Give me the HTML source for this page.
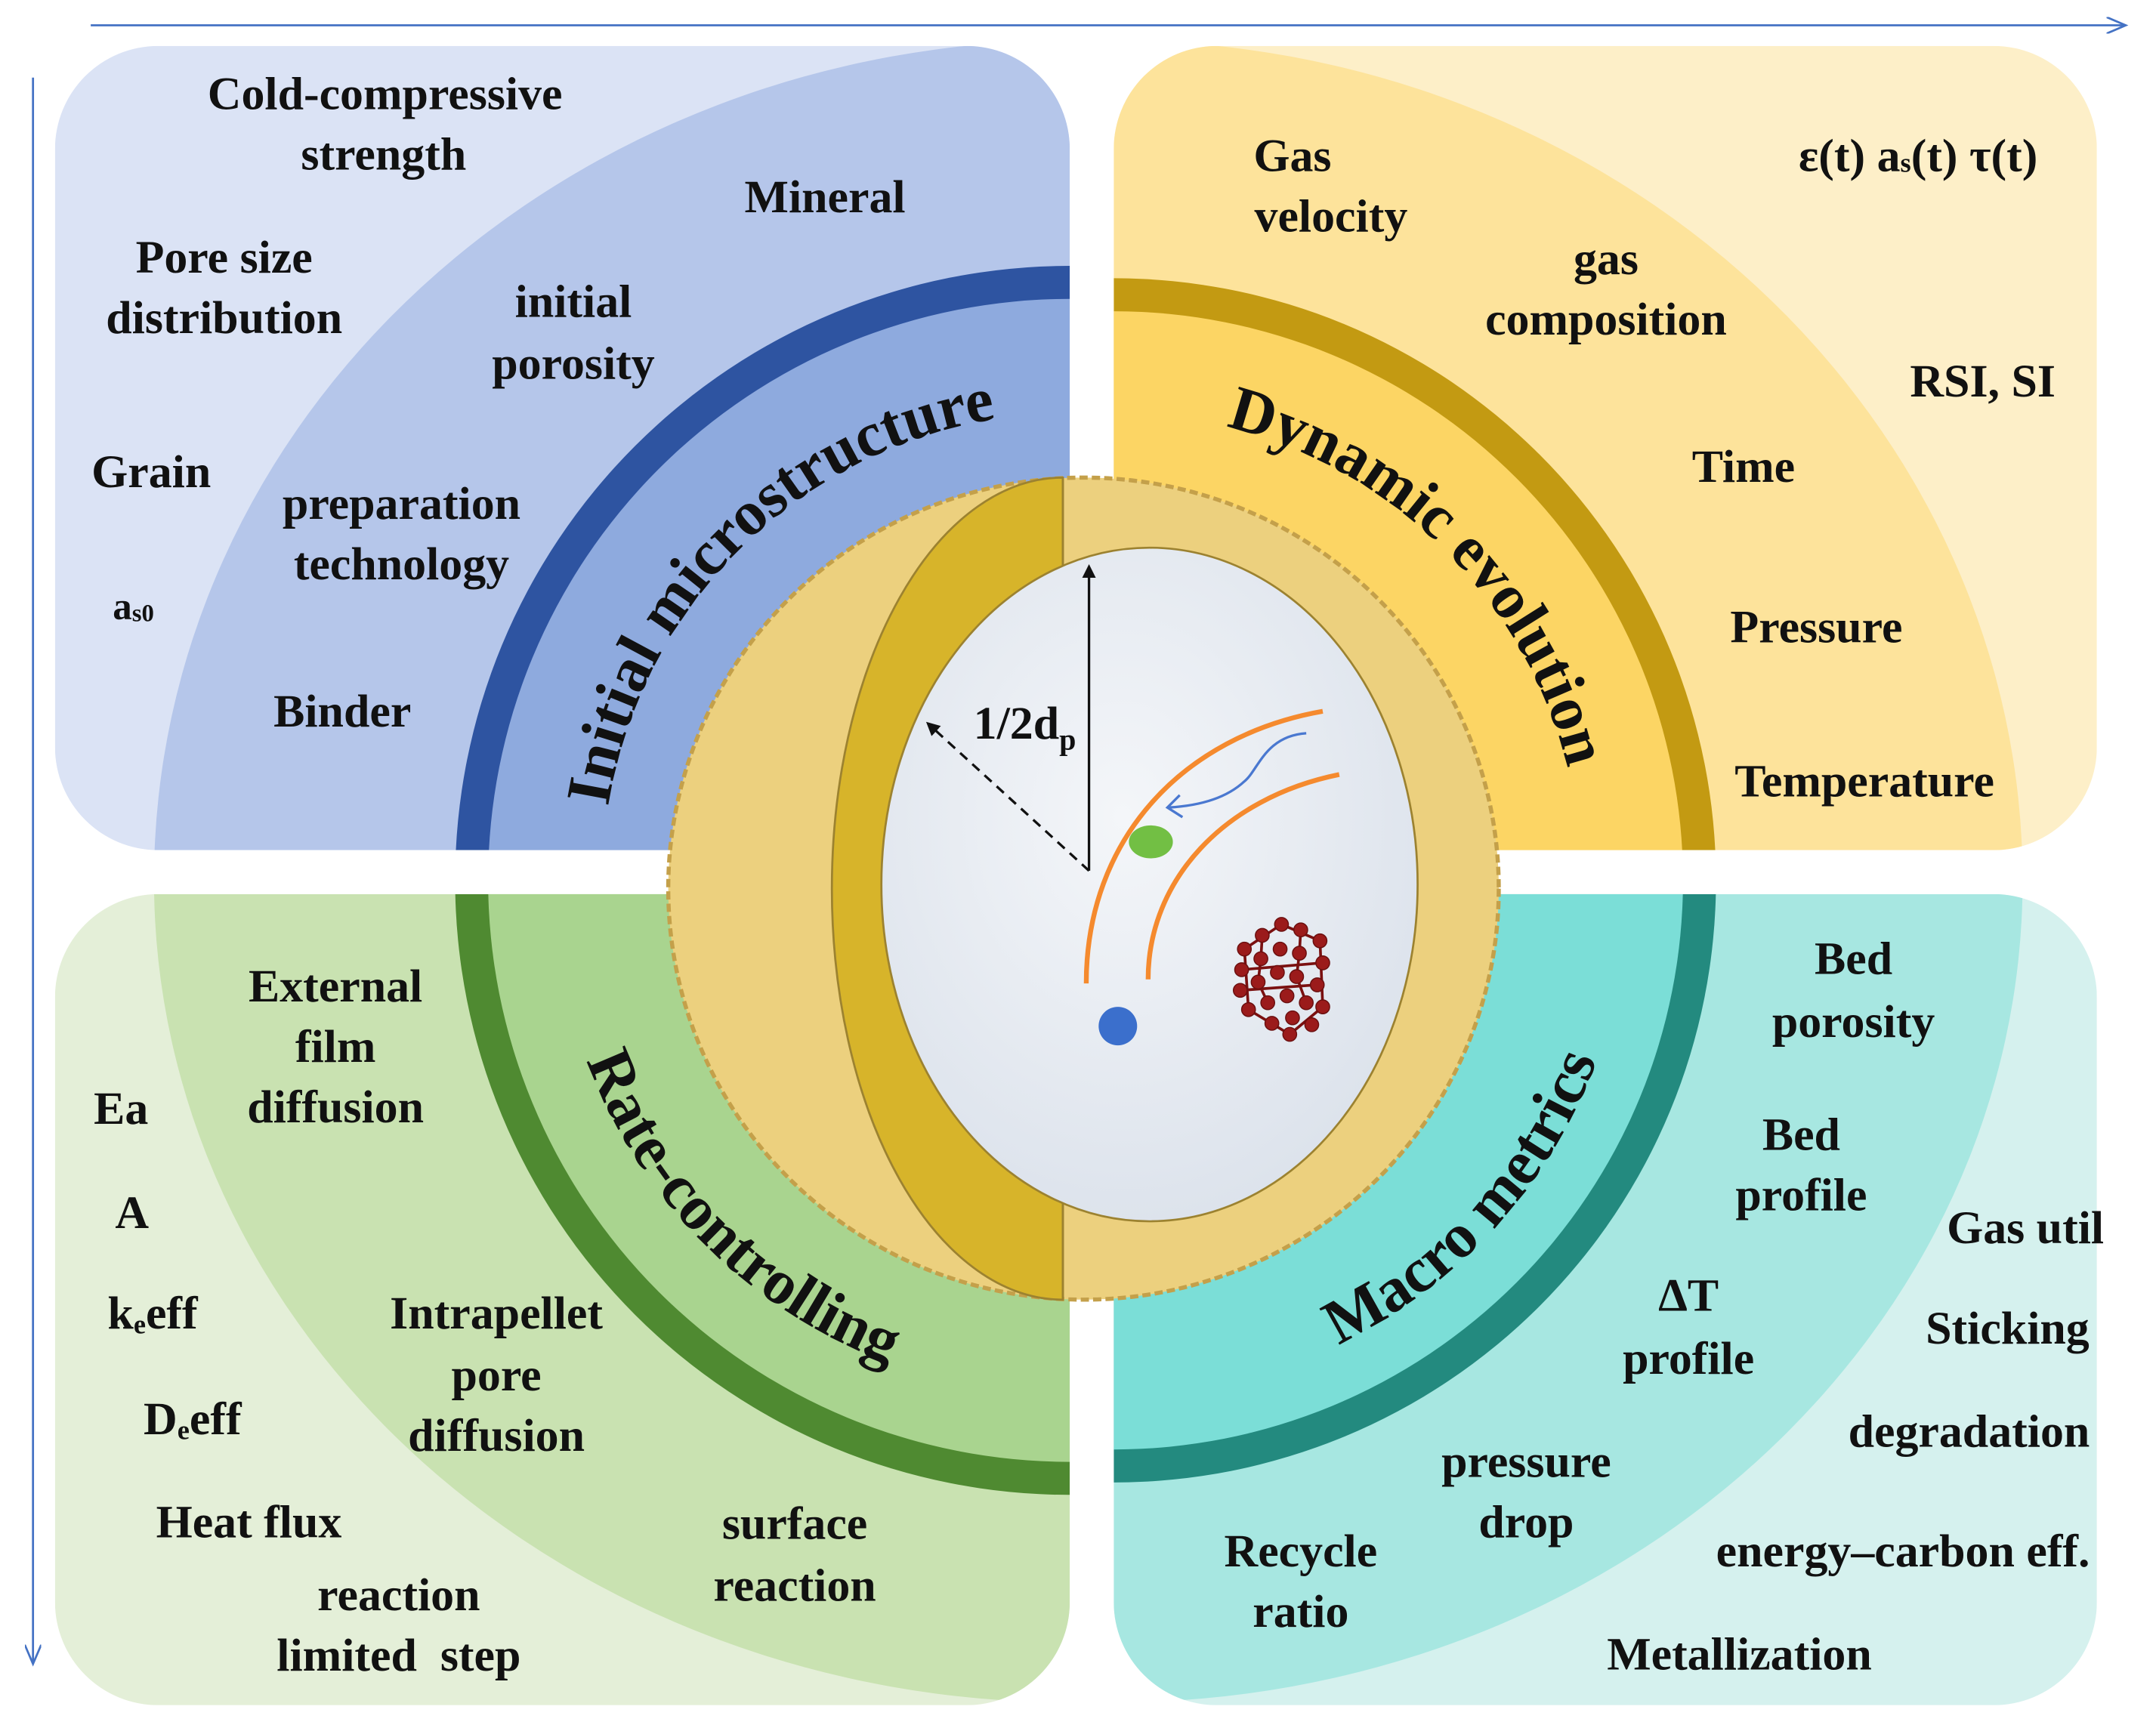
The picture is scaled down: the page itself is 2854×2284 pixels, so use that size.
<!DOCTYPE html>
<html><head><meta charset="utf-8"><style>
html,body{margin:0;padding:0;background:#fff;}
svg{display:block;}
text{font-family:"Liberation Serif","DejaVu Serif",serif;font-weight:bold;fill:#111;}
</style></head><body>
<svg width="2854" height="2284" viewBox="0 0 1568 1254" xmlns="http://www.w3.org/2000/svg">
<defs>
<clipPath id="cTL"><rect x="40" y="33" width="738" height="585" rx="75"/><rect x="300" y="400" width="478" height="218"/></clipPath>
<clipPath id="cTR"><rect x="810" y="33" width="715" height="585" rx="75"/><rect x="810" y="400" width="400" height="218"/></clipPath>
<clipPath id="cBL"><rect x="40" y="650" width="738" height="590" rx="75"/><rect x="300" y="650" width="478" height="200"/></clipPath>
<clipPath id="cBR"><rect x="810" y="650" width="715" height="590" rx="75"/><rect x="810" y="650" width="400" height="200"/></clipPath>
<path id="pTL" d="M438,640 A340,340 0 0 1 778,300"/>
<path id="pTR" d="M810,300 A340,340 0 0 1 1150,640"/>
<path id="pBL" d="M403,640 A375,375 0 0 0 778,1015"/>
<path id="pBR" d="M810,1015 A375,375 0 0 0 1185,640"/>
<radialGradient id="wg" cx="0.45" cy="0.4" r="0.7"><stop offset="0" stop-color="#f4f6f9"/><stop offset="1" stop-color="#d9e0ea"/></radialGradient>
<marker id="ah" markerWidth="10" markerHeight="10" refX="8" refY="5" orient="auto" markerUnits="userSpaceOnUse"><path d="M0,0 L10,5 L0,10 z" fill="#111"/></marker>
<marker id="bh" markerWidth="16" markerHeight="12" refX="14" refY="6" orient="auto" markerUnits="userSpaceOnUse"><path d="M0,0 L14,6 L0,12" fill="none" stroke="#4472c4" stroke-width="1.5"/></marker>
</defs>

<line x1="66" y1="18" x2="1546" y2="18" stroke="#4472c4" stroke-width="1.5" marker-end="url(#bh)"/>
<line x1="24" y1="56" x2="24" y2="1210" stroke="#4472c4" stroke-width="1.5" marker-end="url(#bh)"/>

<g clip-path="url(#cTL)">
<rect x="0" y="0" width="800" height="640" fill="#dbe3f5"/>
<ellipse cx="778" cy="640" rx="666" ry="611" fill="#b5c6ea"/>
<circle cx="778" cy="640" r="447" fill="#2e54a1"/>
<circle cx="778" cy="640" r="423" fill="#8eaade"/>
</g>
<g clip-path="url(#cTR)">
<rect x="800" y="0" width="800" height="640" fill="#fdefc8"/>
<ellipse cx="810" cy="640" rx="661" ry="611" fill="#fde39b"/>
<circle cx="810" cy="640" r="438" fill="#c39a12"/>
<circle cx="810" cy="640" r="414" fill="#fcd564"/>
</g>
<g clip-path="url(#cBL)">
<rect x="0" y="640" width="800" height="640" fill="#e4efd8"/>
<ellipse cx="778" cy="640" rx="666" ry="598" fill="#c9e2b1"/>
<circle cx="778" cy="640" r="447" fill="#4f8a31"/>
<circle cx="778" cy="640" r="423" fill="#a9d48f"/>
</g>
<g clip-path="url(#cBR)">
<rect x="800" y="640" width="800" height="640" fill="#d5f1ee"/>
<ellipse cx="810" cy="640" rx="661" ry="598" fill="#a7e7e1"/>
<circle cx="810" cy="640" r="438" fill="#238a7f"/>
<circle cx="810" cy="640" r="414" fill="#7bded7"/>
</g>

<text font-size="46"><textPath href="#pTL" startOffset="50%" text-anchor="middle">Initial microstructure</textPath></text>
<text font-size="46"><textPath href="#pTR" startOffset="50%" text-anchor="middle">Dynamic evolution</textPath></text>
<text font-size="46"><textPath href="#pBL" startOffset="50%" text-anchor="middle">Rate-controlling</textPath></text>
<text font-size="46"><textPath href="#pBR" startOffset="53%" text-anchor="middle">Macro metrics</textPath></text>

<ellipse cx="788" cy="646" rx="302" ry="299" fill="#ecd07e" stroke="#c4a04a" stroke-width="3" stroke-dasharray="6 3"/>
<ellipse cx="788" cy="646" rx="299" ry="296" fill="#ecd07e"/>
<path d="M773,347 A168,299 0 0 0 773,945 Z" fill="#d7b42a" stroke="#9c8230" stroke-width="1.5"/>
<line x1="773" y1="347" x2="773" y2="945" stroke="#9c8230" stroke-width="1.5"/>
<ellipse cx="836" cy="643" rx="195" ry="245" fill="url(#wg)" stroke="#9c8230" stroke-width="1.5"/>

<line x1="792" y1="633" x2="792" y2="412" stroke="#111" stroke-width="1.8" marker-end="url(#ah)"/>
<line x1="792" y1="633" x2="675" y2="526" stroke="#111" stroke-width="1.8" stroke-dasharray="7 5" marker-end="url(#ah)"/>
<text x="708" y="537" font-size="34">1/2d<tspan font-size="22" dy="8">p</tspan></text>
<path d="M790,715 C790,610 860,535 962,517" fill="none" stroke="#f58a2e" stroke-width="3.5"/>
<path d="M835,712 C835,640 890,580 974,563" fill="none" stroke="#f58a2e" stroke-width="3.5"/>
<path d="M950,533 C920,535 915,560 905,568 C890,582 868,586 850,587" fill="none" stroke="#4a78d0" stroke-width="1.8"/>
<path d="M858,578 L849,587 L860,594" fill="none" stroke="#4a78d0" stroke-width="1.8"/>
<ellipse cx="837" cy="612" rx="16" ry="12" fill="#72bf44"/>
<circle cx="813" cy="746" r="14" fill="#3b6fcc"/>
<g stroke="#7a1010" stroke-width="2">
<path d="M905,690 L932,672 L960,684 L962,732 L938,752 L908,734 Z M918,680 L917,697 L915,714 L922,729 M946,676 L945,693 L943,710 L950,729 M903,705 L962,700 M902,720 L958,716" fill="none"/>
</g>
<g fill="#9b1b1b" stroke="#6a0f0f" stroke-width="0.8">
<circle cx="905" cy="690" r="5"/><circle cx="918" cy="680" r="5"/><circle cx="932" cy="672" r="5"/><circle cx="946" cy="676" r="5"/><circle cx="960" cy="684" r="5"/>
<circle cx="903" cy="705" r="5"/><circle cx="917" cy="697" r="5"/><circle cx="931" cy="690" r="5"/><circle cx="945" cy="693" r="5"/><circle cx="962" cy="700" r="5"/>
<circle cx="902" cy="720" r="5"/><circle cx="915" cy="714" r="5"/><circle cx="929" cy="707" r="5"/><circle cx="943" cy="710" r="5"/><circle cx="958" cy="716" r="5"/>
<circle cx="908" cy="734" r="5"/><circle cx="922" cy="729" r="5"/><circle cx="936" cy="724" r="5"/><circle cx="950" cy="729" r="5"/><circle cx="962" cy="732" r="5"/>
<circle cx="925" cy="744" r="5"/><circle cx="940" cy="740" r="5"/><circle cx="954" cy="745" r="5"/><circle cx="938" cy="752" r="5"/>
</g>

<g font-size="34" text-anchor="middle" dominant-baseline="central">
<text x="280" y="68">Cold-compressive</text>
<text x="279" y="112">strength</text>
<text x="600" y="143">Mineral</text>
<text x="163" y="187">Pore size</text>
<text x="163" y="231">distribution</text>
<text x="417" y="219">initial</text>
<text x="417" y="264">porosity</text>
<text x="110" y="343">Grain</text>
<text x="292" y="366">preparation</text>
<text x="292" y="410">technology</text>
<text x="97" y="441" font-size="28">a<tspan font-size="18" dy="5">s0</tspan></text>
<text x="249" y="517">Binder</text>

<text x="940" y="113">Gas</text>
<text x="968" y="157">velocity</text>
<text x="1395" y="113">ε(t) a<tspan font-size="20" dy="5">s</tspan><tspan dy="-5">(t) τ(t)</tspan></text>
<text x="1168" y="188">gas</text>
<text x="1168" y="232">composition</text>
<text x="1442" y="277">RSI, SI</text>
<text x="1268" y="339">Time</text>
<text x="1321" y="456">Pressure</text>
<text x="1356" y="568">Temperature</text>

<text x="244" y="717">External</text>
<text x="244" y="761">film</text>
<text x="244" y="805">diffusion</text>
<text x="88" y="806">Ea</text>
<text x="96" y="882">A</text>
<text x="111" y="955">k<tspan font-size="20" dy="8">e</tspan><tspan dy="-8">eff</tspan></text>
<text x="361" y="955">Intrapellet</text>
<text x="361" y="1000">pore</text>
<text x="361" y="1044">diffusion</text>
<text x="140" y="1032">D<tspan font-size="20" dy="8">e</tspan><tspan dy="-8">eff</tspan></text>
<text x="181" y="1107">Heat flux</text>
<text x="578" y="1108">surface</text>
<text x="578" y="1153">reaction</text>
<text x="290" y="1160">reaction</text>
<text x="290" y="1204" xml:space="preserve">limited  step</text>

<text x="1348" y="697">Bed</text>
<text x="1348" y="743">porosity</text>
<text x="1310" y="825">Bed</text>
<text x="1310" y="869">profile</text>
<text x="1473" y="893">Gas util</text>
<text x="1228" y="942">ΔT</text>
<text x="1228" y="988">profile</text>
<text x="1460" y="966">Sticking</text>
<text x="1432" y="1041">degradation</text>
<text x="1110" y="1063">pressure</text>
<text x="1110" y="1107">drop</text>
<text x="946" y="1128">Recycle</text>
<text x="946" y="1172">ratio</text>
<text x="1384" y="1128">energy–carbon eff.</text>
<text x="1265" y="1203">Metallization</text>
</g>
</svg>
</body></html>
